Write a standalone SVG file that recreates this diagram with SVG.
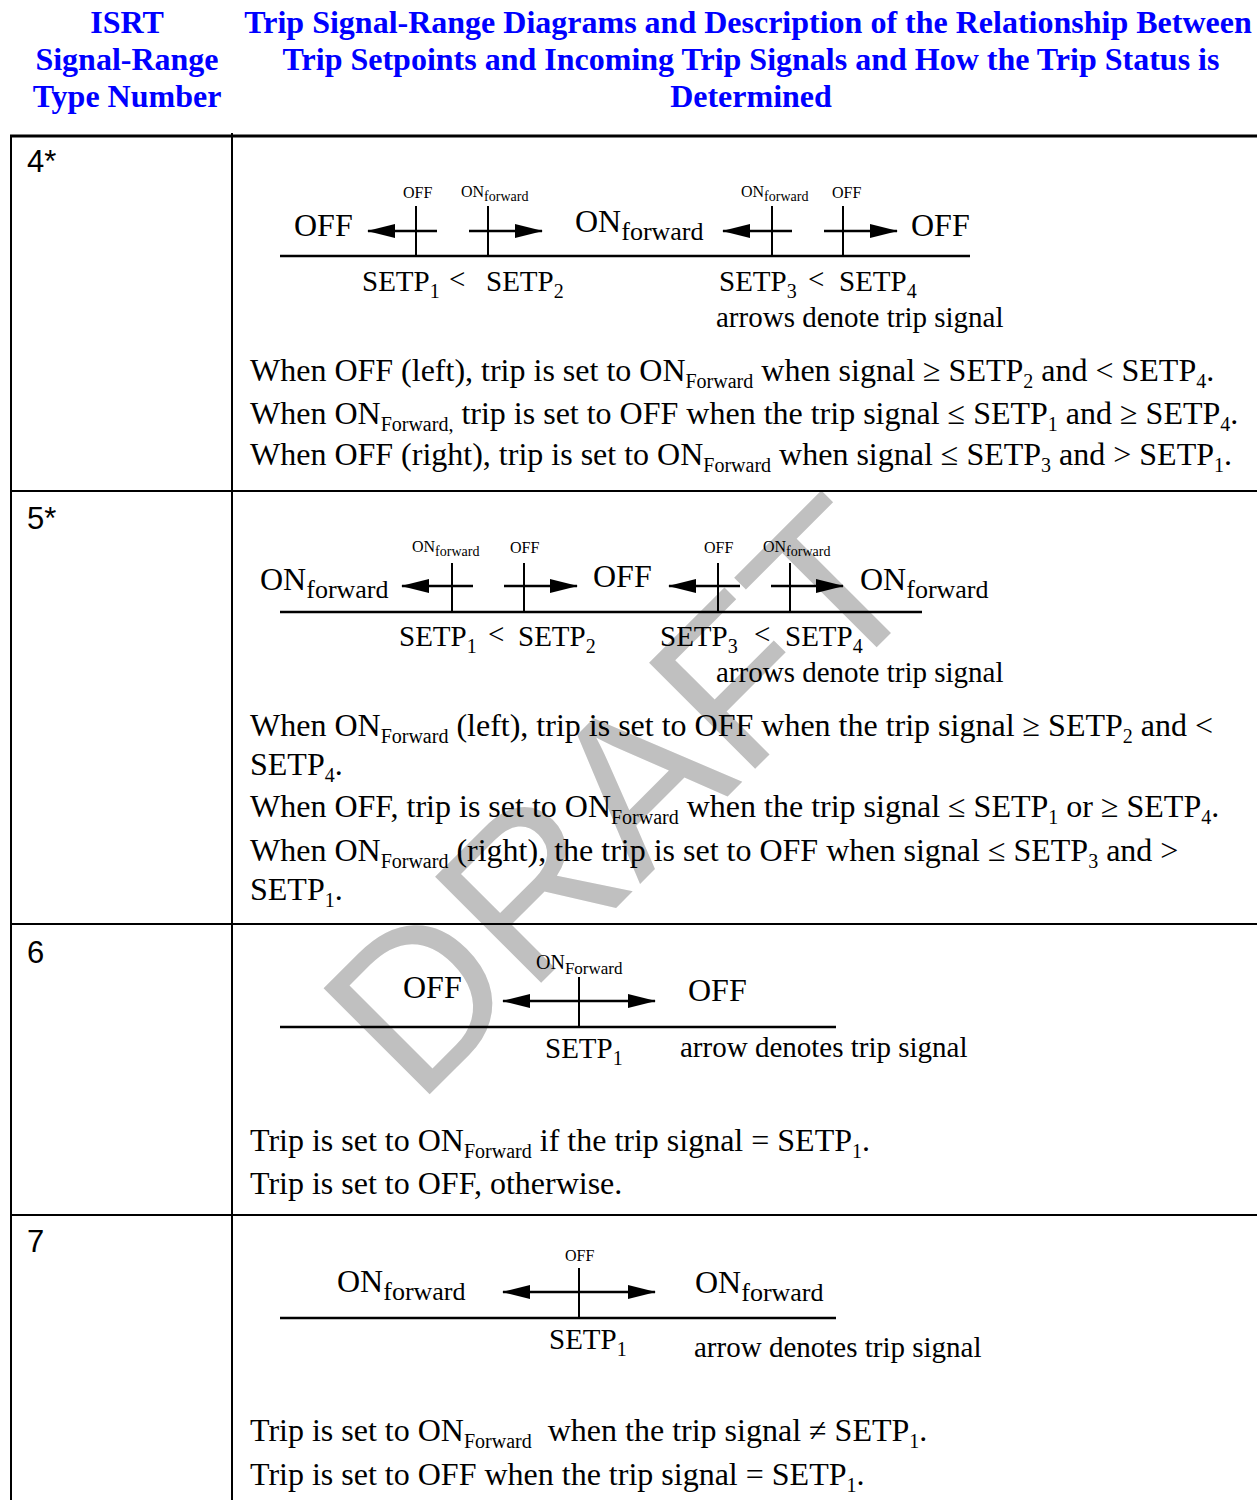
<svg xmlns="http://www.w3.org/2000/svg" width="1257" height="1500" viewBox="0 0 1257 1500">
  <style>
    .hd { font-family: "Liberation Serif", "Times New Roman", serif; font-weight: bold; font-size: 32px; fill: #0000ff; text-anchor: middle; }
    .num { font-family: "Liberation Sans", Arial, sans-serif; font-size: 31px; fill: #000; }
    .tx { font-family: "Liberation Serif", "Times New Roman", serif; font-size: 32px; fill: #000; }
    .sub { font-size: 20px; }
    .big { font-family: "Liberation Serif", "Times New Roman", serif; font-size: 32px; fill: #000; }
    .bsub { font-size: 26px; }
    .lbl { font-family: "Liberation Serif", "Times New Roman", serif; font-size: 29px; fill: #000; }
    .lsub { font-size: 20px; }
    .sm { font-family: "Liberation Serif", "Times New Roman", serif; font-size: 16px; fill: #000; }
    .smsub { font-size: 14px; }
    .grid { stroke: #000; stroke-width: 2; fill: none; }
    .axis { stroke: #000; stroke-width: 2.5; fill: none; }
    .tick { stroke: #000; stroke-width: 2; fill: none; }
    .arr { stroke: #000; stroke-width: 2.5; fill: none; marker-end: url(#ah); }
    .arr2 { stroke: #000; stroke-width: 2.5; fill: none; marker-start: url(#ah); marker-end: url(#ah); }
    .wm { font-family: "Liberation Sans", Arial, sans-serif; font-size: 218px; fill: #c0c0c0; text-anchor: middle; }
  </style>
  <defs>
    <marker id="ah" markerWidth="28" markerHeight="14" refX="27" refY="7" orient="auto-start-reverse" markerUnits="userSpaceOnUse">
      <path d="M0,0 L28,7 L0,14 z" fill="#000"/>
    </marker>
  </defs>

  <rect width="1257" height="1500" fill="#fff"/>

  <!-- watermark -->
  <text class="wm" x="674" y="850" transform="rotate(-45 674 850)">DRAFT</text>

  <!-- column headings -->
  <g id="header">
    <text class="hd" x="127" y="33">ISRT</text>
    <text class="hd" x="127" y="70">Signal-Range</text>
    <text class="hd" x="127" y="107">Type Number</text>
    <text class="hd" x="748" y="33">Trip Signal-Range Diagrams and Description of the Relationship Between</text>
    <text class="hd" x="751" y="70">Trip Setpoints and Incoming Trip Signals and How the Trip Status is</text>
    <text class="hd" x="751" y="107">Determined</text>
  </g>

  <!-- table rules -->
  <g id="table">
    <line x1="10" y1="136" x2="1257" y2="136" stroke="#000" stroke-width="3"/>
    <line class="grid" x1="11" y1="135" x2="11" y2="1500"/>
    <line class="grid" x1="232" y1="133" x2="232" y2="1500"/>
    <line class="grid" x1="11" y1="491" x2="1257" y2="491"/>
    <line class="grid" x1="11" y1="924" x2="1257" y2="924"/>
    <line class="grid" x1="11" y1="1215" x2="1257" y2="1215"/>
  </g>

  <!-- type 4* -->
  <g id="row4">
    <text class="num" x="27" y="172">4*</text>
    <line class="axis" x1="280" y1="256" x2="970" y2="256"/>
    <line class="tick" x1="416" y1="206" x2="416" y2="256"/>
    <line class="tick" x1="488" y1="206" x2="488" y2="256"/>
    <line class="tick" x1="772" y1="206" x2="772" y2="256"/>
    <line class="tick" x1="843" y1="206" x2="843" y2="256"/>
    <text class="big" x="294" y="236">OFF</text>
    <text class="big" x="575" y="232">ON<tspan class="bsub" dy="8">forward</tspan></text>
    <text class="big" x="911" y="236">OFF</text>
    <text class="sm" x="403" y="198">OFF</text>
    <text class="sm" x="461" y="197">ON<tspan class="smsub" dy="4">forward</tspan></text>
    <text class="sm" x="741" y="197">ON<tspan class="smsub" dy="4">forward</tspan></text>
    <text class="sm" x="832" y="198">OFF</text>
    <text class="lbl" x="362" y="291">SETP<tspan class="lsub" dy="7">1</tspan></text>
    <text class="lbl" x="449" y="289">&lt;</text>
    <text class="lbl" x="486" y="291">SETP<tspan class="lsub" dy="7">2</tspan></text>
    <text class="lbl" x="719" y="291">SETP<tspan class="lsub" dy="7">3</tspan></text>
    <text class="lbl" x="808" y="289">&lt;</text>
    <text class="lbl" x="839" y="291">SETP<tspan class="lsub" dy="7">4</tspan></text>
    <text class="lbl" x="716" y="327">arrows denote trip signal</text>
    <text class="tx" x="250" y="381">When OFF (left), trip is set to ON<tspan class="sub" dy="7">Forward</tspan><tspan dy="-7"> when signal ≥ SETP</tspan><tspan class="sub" dy="7">2</tspan><tspan dy="-7"> and &lt; SETP</tspan><tspan class="sub" dy="7">4</tspan><tspan dy="-7">.</tspan></text>
    <text class="tx" x="250" y="424">When ON<tspan class="sub" dy="7">Forward,</tspan><tspan dy="-7"> trip is set to OFF when the trip signal ≤ SETP</tspan><tspan class="sub" dy="7">1</tspan><tspan dy="-7"> and ≥ SETP</tspan><tspan class="sub" dy="7">4</tspan><tspan dy="-7">.</tspan></text>
    <text class="tx" x="250" y="465">When OFF (right), trip is set to ON<tspan class="sub" dy="7">Forward</tspan><tspan dy="-7"> when signal ≤ SETP</tspan><tspan class="sub" dy="7">3</tspan><tspan dy="-7"> and &gt; SETP</tspan><tspan class="sub" dy="7">1</tspan><tspan dy="-7">.</tspan></text>
  </g>

  <!-- type 5* -->
  <g id="row5">
    <text class="num" x="27" y="529">5*</text>
    <line class="axis" x1="280" y1="612" x2="922" y2="612"/>
    <line class="tick" x1="452" y1="563" x2="452" y2="612"/>
    <line class="tick" x1="524" y1="563" x2="524" y2="612"/>
    <line class="tick" x1="718" y1="563" x2="718" y2="612"/>
    <line class="tick" x1="790" y1="563" x2="790" y2="612"/>
    <text class="big" x="260" y="590">ON<tspan class="bsub" dy="8">forward</tspan></text>
    <text class="big" x="593" y="587">OFF</text>
    <text class="big" x="860" y="590">ON<tspan class="bsub" dy="8">forward</tspan></text>
    <text class="sm" x="412" y="552">ON<tspan class="smsub" dy="4">forward</tspan></text>
    <text class="sm" x="510" y="553">OFF</text>
    <text class="sm" x="704" y="553">OFF</text>
    <text class="sm" x="763" y="552">ON<tspan class="smsub" dy="4">forward</tspan></text>
    <text class="lbl" x="399" y="646">SETP<tspan class="lsub" dy="7">1</tspan></text>
    <text class="lbl" x="488" y="644">&lt;</text>
    <text class="lbl" x="518" y="646">SETP<tspan class="lsub" dy="7">2</tspan></text>
    <text class="lbl" x="660" y="646">SETP<tspan class="lsub" dy="7">3</tspan></text>
    <text class="lbl" x="754" y="644">&lt;</text>
    <text class="lbl" x="785" y="646">SETP<tspan class="lsub" dy="7">4</tspan></text>
    <text class="lbl" x="716" y="682">arrows denote trip signal</text>
    <text class="tx" x="250" y="736">When ON<tspan class="sub" dy="7">Forward</tspan><tspan dy="-7"> (left), trip is set to OFF when the trip signal ≥ SETP</tspan><tspan class="sub" dy="7">2</tspan><tspan dy="-7"> and &lt;</tspan></text>
    <text class="tx" x="250" y="775">SETP<tspan class="sub" dy="7">4</tspan><tspan dy="-7">.</tspan></text>
    <text class="tx" x="250" y="817">When OFF, trip is set to ON<tspan class="sub" dy="7">Forward</tspan><tspan dy="-7"> when the trip signal ≤ SETP</tspan><tspan class="sub" dy="7">1</tspan><tspan dy="-7"> or ≥ SETP</tspan><tspan class="sub" dy="7">4</tspan><tspan dy="-7">.</tspan></text>
    <text class="tx" x="250" y="861">When ON<tspan class="sub" dy="7">Forward</tspan><tspan dy="-7"> (right), the trip is set to OFF when signal ≤ SETP</tspan><tspan class="sub" dy="7">3</tspan><tspan dy="-7"> and &gt;</tspan></text>
    <text class="tx" x="250" y="900">SETP<tspan class="sub" dy="7">1</tspan><tspan dy="-7">.</tspan></text>
  </g>

  <!-- type 6 -->
  <g id="row6">
    <text class="num" x="27" y="963">6</text>
    <line class="axis" x1="280" y1="1027" x2="836" y2="1027"/>
    <line class="tick" x1="579" y1="977" x2="579" y2="1027"/>
    <text class="big" x="403" y="998">OFF</text>
    <text class="big" x="688" y="1001">OFF</text>
    <text class="sm" x="536" y="969" style="font-size:20px">ON<tspan style="font-size:17px" dy="5">Forward</tspan></text>
    <text class="lbl" x="545" y="1058">SETP<tspan class="lsub" dy="7">1</tspan></text>
    <text class="lbl" x="680" y="1057">arrow denotes trip signal</text>
    <text class="tx" x="250" y="1151">Trip is set to ON<tspan class="sub" dy="7">Forward</tspan><tspan dy="-7"> if the trip signal = SETP</tspan><tspan class="sub" dy="7">1</tspan><tspan dy="-7">.</tspan></text>
    <text class="tx" x="250" y="1194">Trip is set to OFF, otherwise.</text>
  </g>

  <!-- type 7 -->
  <g id="row7">
    <text class="num" x="27" y="1252">7</text>
    <line class="axis" x1="280" y1="1318" x2="836" y2="1318"/>
    <line class="tick" x1="579" y1="1268" x2="579" y2="1318"/>
    <text class="big" x="337" y="1292">ON<tspan class="bsub" dy="8">forward</tspan></text>
    <text class="big" x="695" y="1293">ON<tspan class="bsub" dy="8">forward</tspan></text>
    <text class="sm" x="565" y="1261">OFF</text>
    <text class="lbl" x="549" y="1349">SETP<tspan class="lsub" dy="7">1</tspan></text>
    <text class="lbl" x="694" y="1357">arrow denotes trip signal</text>
    <text class="tx" x="250" y="1441">Trip is set to ON<tspan class="sub" dy="7">Forward</tspan><tspan dy="-7">&#160; when the trip signal ≠ SETP</tspan><tspan class="sub" dy="7">1</tspan><tspan dy="-7">.</tspan></text>
    <text class="tx" x="250" y="1485">Trip is set to OFF when the trip signal = SETP<tspan class="sub" dy="7">1</tspan><tspan dy="-7">.</tspan></text>
  </g>

  <!-- trip-signal arrows -->
  <g id="connectors">
    <line class="arr" x1="437" y1="231" x2="368" y2="231"/>
    <line class="arr" x1="469" y1="231" x2="542" y2="231"/>
    <line class="arr" x1="792" y1="231" x2="723" y2="231"/>
    <line class="arr" x1="824" y1="231" x2="897" y2="231"/>
    <line class="arr" x1="473" y1="586" x2="402" y2="586"/>
    <line class="arr" x1="504" y1="586" x2="577" y2="586"/>
    <line class="arr" x1="740" y1="586" x2="669" y2="586"/>
    <line class="arr" x1="771" y1="586" x2="843" y2="586"/>
    <line class="arr2" x1="503" y1="1001" x2="655" y2="1001"/>
    <line class="arr2" x1="503" y1="1292" x2="655" y2="1292"/>
  </g>
</svg>
